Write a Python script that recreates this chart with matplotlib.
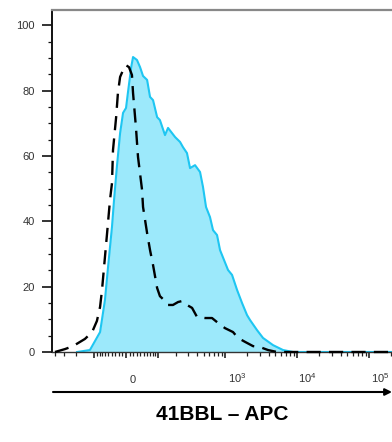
import matplotlib
matplotlib.use("Agg")
import matplotlib.pyplot as plt
from matplotlib.transforms import ScaledTranslation

plt.rcParams['font.family'] = ['Liberation Sans', 'DejaVu Sans']
plt.rcParams['mathtext.default'] = 'regular'

# stained sample (filled, cyan) - fluorescence vs % of max
stained_x = [-192, -120, -78, -61, -51, -39, -33, -25, -16, -8, 0, 5, 14, 19, 30, 39,
             48, 61, 71, 82, 98, 110, 134, 150, 193, 229, 253, 289, 320, 377, 444,
             489, 539, 613, 676, 769, 847, 1095, 1245, 1462, 1715, 2012, 2213, 2770,
             3356, 4624, 6367, 8766, 250000]
stained_y = [0, 0.6, 6.1, 15.9, 26.0, 38.3, 46.5, 56.6, 67.0, 73.2, 74.7, 79.3, 87.2,
             90.3, 89.4, 87.2, 84.5, 83.3, 78.1, 77.1, 71.9, 71.0, 66.4, 68.6, 65.8,
             64.3, 62.7, 60.9, 56.3, 57.2, 55.1, 50.5, 44.4, 41.3, 37.3, 35.8, 31.2,
             25.1, 23.6, 19.0, 15.0, 11.3, 9.8, 6.7, 4.3, 2.1, 0.6, 0, 0]

# isotype control (dashed)
control_x = [-403, -289, -221, -145, -110, -90, -78, -71, -64, -54, -45, -39, -36, -27,
             -22, -16, -8, 0, 8, 16, 19, 27, 33, 45, 48, 61, 71, 82, 98, 110, 124, 150,
             179, 214, 245, 289, 342, 403, 522, 654, 794, 994, 1285, 1509, 1888, 2436,
             3049, 3940, 5250, 7600, 250000]
control_y = [0, 0.9, 1.8, 4.0, 6.1, 9.5, 13.8, 19.0, 26.0, 36.4, 46.5, 51.7, 61.8, 71.9,
             79.3, 84.2, 86.3, 87.8, 87.2, 84.8, 79.3, 68.9, 59.7, 49.6, 44.4, 36.4, 31.2,
             26.6, 19.6, 17.1, 16.2, 14.4, 14.4, 15.3, 15.6, 14.4, 13.5, 10.7, 10.4, 10.4,
             8.9, 7.3, 6.1, 4.3, 3.1, 1.8, 1.5, 0.6, 0, 0, 0]

x_major = [-100, 0, 100, 1000, 10000, 100000]
x_labels = ['0', '$10^3$', '$10^4$', '$10^5$']
x_label_pos = [0, 1000, 10000, 100000]
x_minor = ([-400, -300, -200] + [-v for v in range(10, 100, 10)] + list(range(10, 100, 10))
           + [m * 10 ** e for e in (2, 3, 4) for m in range(2, 10)] + [200000])
y_major = [0, 20, 40, 60, 80, 100]
y_minor = [5, 10, 15, 25, 30, 35, 45, 50, 55, 65, 70, 75, 85, 90, 95]

fig = plt.figure(figsize=(3.92, 4.42), dpi=100)
ax = fig.add_axes([52 / 392, 1 - 352 / 442, 348 / 392, 342 / 442])
ax.set_xscale('asinh', linear_width=84)

ax.fill_between(stained_x, stained_y, color='#9CE9FB', lw=0, zorder=1)
ax.plot(stained_x, stained_y, color='#1EC6F2', lw=1.5, zorder=2)
ax.plot(control_x, control_y, color='black', lw=1.7, dashes=(6, 3.5), zorder=3, clip_on=False)

ax.set_xlim(-444, 268000)
ax.set_ylim(0, 104.7)

ax.set_xticks(x_major)
ax.set_xticks(x_minor, minor=True)
ax.set_xticklabels([])
ax.set_xticklabels([], minor=True)
ax.set_yticks(y_major)
ax.set_yticks(y_minor, minor=True)

ax.tick_params(axis='x', which='major', direction='out', length=4.3, width=1.2, color='#222')
ax.tick_params(axis='x', which='minor', direction='out', length=2.9, width=0.9, color='#222')
ax.tick_params(axis='y', which='major', direction='out', length=7.2, width=1.2, color='#111',
               labelsize=8, labelcolor='#333', pad=5)
ax.tick_params(axis='y', which='minor', direction='out', length=3, width=0.9, color='#111')

ax.spines['right'].set_visible(False)
ax.spines['top'].set_color('#888888')
ax.spines['top'].set_linewidth(1.6)
ax.spines['left'].set_color('#111111')
ax.spines['left'].set_linewidth(1.4)
ax.spines['bottom'].set_color('#333333')
ax.spines['bottom'].set_linewidth(1.0)

# tick labels sit a bit right of their ticks, like the original export
shifts = [7, 12, 10, 11]
for xv, txt, sh in zip(x_label_pos, x_labels, shifts):
    off = ScaledTranslation(sh / 100, 0, fig.dpi_scale_trans)
    ax.text(xv, -0.0906, txt, transform=ax.get_xaxis_transform() + off,
            ha='center', va='baseline', fontsize=8, color='#333')

# arrow under the axis and the channel label
ay = 1 - 392 / 442
ax.annotate('', xy=(392 / 392, ay), xytext=(53 / 392, ay), xycoords='figure fraction',
            textcoords='figure fraction',
            arrowprops=dict(arrowstyle='-|>', color='black', lw=1.5, mutation_scale=10,
                            shrinkA=0, shrinkB=0))
fig.text(222 / 392, 1 - 415 / 442, '41BBL \u2013 APC', ha='center', va='center',
         fontsize=15, fontweight='bold')

fig.savefig('out.png', dpi=100)
